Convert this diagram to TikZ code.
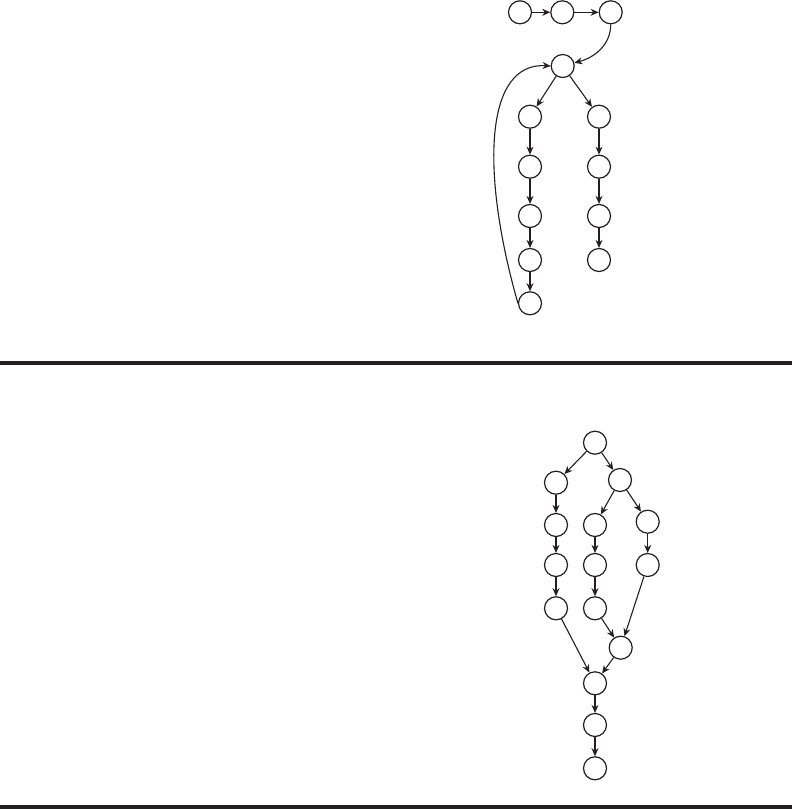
\documentclass[tikz,border=0pt]{standalone}
\usepackage{tikz}
\usetikzlibrary{arrows.meta}
\definecolor{ink}{HTML}{231F20}

\begin{document}
\begin{tikzpicture}[x=1pt,y=-1pt,
  vtx/.style={circle,draw=ink,line width=1.2pt,minimum size=23pt,inner sep=0pt},
  edge/.style={draw=ink,line width=1.1pt,-{Stealth[length=8pt,width=7pt]}}]
  \useasboundingbox (0,0) rectangle (792,809);

  % Upper graph: chain, hub and two branches
  \node[vtx] (t1) at (520,12.3) {};
  \node[vtx] (t2) at (562.3,12.3) {};
  \node[vtx] (t3) at (610.7,12.3) {};
  \node[vtx] (hub) at (562.7,66) {};
  \node[vtx] (l1) at (530,116.7) {};
  \node[vtx] (l2) at (530,166.7) {};
  \node[vtx] (l3) at (530,216) {};
  \node[vtx] (l4) at (530,260) {};
  \node[vtx] (l5) at (530,303.3) {};
  \node[vtx] (r1) at (599,116.7) {};
  \node[vtx] (r2) at (599,166.7) {};
  \node[vtx] (r3) at (599,216) {};
  \node[vtx] (r4) at (599,260) {};

  \draw[edge] (t1) -- (t2);
  \draw[edge] (t2) -- (t3);
  \draw[edge] (t3.south) to[out=-90,in=15] (hub);
  \draw[edge] (hub) -- (l1);
  \draw[edge] (hub) -- (r1);
  \draw[edge] (l1) -- (l2);
  \draw[edge] (l2) -- (l3);
  \draw[edge] (l3) -- (l4);
  \draw[edge] (l4) -- (l5);
  \draw[edge] (r1) -- (r2);
  \draw[edge] (r2) -- (r3);
  \draw[edge] (r3) -- (r4);
  % Back edge to the hub
  \draw[edge] (l5.west) .. controls (480,170) and (485,62) .. (hub.west);

  % Separating rules
  \fill[ink] (0,361) rectangle (792,365);
  \fill[ink] (0,805) rectangle (792,809);

  % Lower graph: split, three paths, join
  \node[vtx] (b0) at (595,442.7) {};
  \node[vtx] (bl1) at (556,482.7) {};
  \node[vtx] (bl2) at (556,525) {};
  \node[vtx] (bl3) at (556,565) {};
  \node[vtx] (bl4) at (556,608.3) {};
  \node[vtx] (bsp) at (620,480) {};
  \node[vtx] (bc1) at (595,525) {};
  \node[vtx] (bc2) at (595,565) {};
  \node[vtx] (bc3) at (595,608.3) {};
  \node[vtx] (br1) at (647.7,521.7) {};
  \node[vtx] (br2) at (647.7,565) {};
  \node[vtx] (bj) at (620.7,647.7) {};
  \node[vtx] (bs1) at (595,683.3) {};
  \node[vtx] (bs2) at (595,725) {};
  \node[vtx] (bs3) at (595,768.3) {};

  \draw[edge] (b0) -- (bl1);
  \draw[edge] (b0) -- (bsp);
  \draw[edge] (bl1) -- (bl2);
  \draw[edge] (bl2) -- (bl3);
  \draw[edge] (bl3) -- (bl4);
  \draw[edge] (bsp) -- (bc1);
  \draw[edge] (bsp) -- (br1);
  \draw[edge] (bc1) -- (bc2);
  \draw[edge] (bc2) -- (bc3);
  \draw[edge] (br1) -- (br2);
  \draw[edge] (bc3) -- (bj);
  \draw[edge] (br2) -- (bj);
  \draw[edge] (bl4) -- (bs1);
  \draw[edge] (bj) -- (bs1);
  \draw[edge] (bs1) -- (bs2);
  \draw[edge] (bs2) -- (bs3);
\end{tikzpicture}
\end{document}
